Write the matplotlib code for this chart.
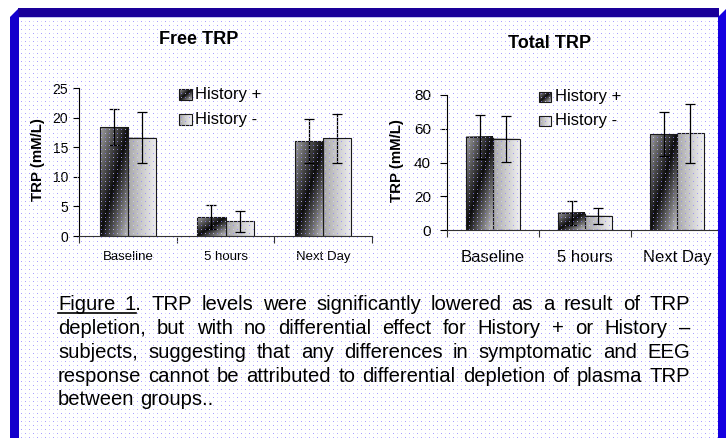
import numpy as np
import matplotlib
matplotlib.use('Agg')
import matplotlib.pyplot as plt
from matplotlib.patches import Rectangle, Polygon

plt.rcParams['font.family'] = ['Liberation Sans', 'DejaVu Sans']

# ---------------- data ----------------
categories = ['Baseline', '5 hours', 'Next Day']
series = ['History +', 'History -']

free_plus = [18.4, 3.2, 16.0]
free_plus_err = [3.1, 2.1, 3.7]
free_minus = [16.6, 2.5, 16.5]
free_minus_err = [4.3, 1.8, 4.1]

total_plus = [55.2, 10.2, 56.7]
total_plus_err = [13.2, 7.2, 13.0]
total_minus = [54.0, 8.4, 57.4]
total_minus_err = [13.6, 4.6, 17.4]

free_yticks = [0, 5, 10, 15, 20, 25]
total_yticks = [0, 20, 40, 60, 80]

titles = ['Free TRP', 'Total TRP']
ylabel = 'TRP (mM/L)'

caption_lines = [
    ['Figure', '1.', 'TRP', 'levels', 'were', 'significantly', 'lowered', 'as', 'a', 'result', 'of', 'TRP'],
    ['depletion,', 'but', 'with', 'no', 'differential', 'effect', 'for', 'History', '+', 'or', 'History', '\u2013'],
    ['subjects,', 'suggesting', 'that', 'any', 'differences', 'in', 'symptomatic', 'and', 'EEG'],
    ['response', 'cannot', 'be', 'attributed', 'to', 'differential', 'depletion', 'of', 'plasma', 'TRP'],
    ['between', 'groups..'],
]

# ---------------- figure ----------------
W, H = 726, 438
fig = plt.figure(figsize=(W / 100, H / 100), dpi=100)
fig.patch.set_facecolor('white')


def fbox(x0, y0, x1, y1):
    return [x0 / W, 1 - y1 / H, (x1 - x0) / W, (y1 - y0) / H]


def grad_plus(n=96):
    u = np.linspace(0, 1, n)
    U, V = np.meshgrid(u, u)
    d = U - V
    g = np.where(d < 0, 0.05 + 0.58 * (-d), 0.05 + 0.72 * d)
    g = np.clip(g, 0, 1)
    return np.dstack([g, g, g])


def grad_minus(n=96):
    u = np.linspace(0, 1, n)
    U, V = np.meshgrid(u, u)
    g = 0.66 + 0.28 * U
    return np.dstack([g, g, g])


GRADS = [grad_plus(), grad_minus()]


def draw_chart(rect, plus, plus_err, minus, minus_err, yticks, width,
               ytick_size, ytick_pad, ytick_len, xtick_size, xtick_pad):
    ax = fig.add_axes(rect, zorder=1)
    ax.set_facecolor('none')
    x = np.arange(len(categories))
    vals = [plus, minus]
    errs = [plus_err, minus_err]
    offs = [-width / 2, width / 2]
    for k in range(2):
        bars = ax.bar(x + offs[k], vals[k], width=width, facecolor='none',
                      edgecolor='#1a1a1a', linewidth=0.8, zorder=3)
        for b in bars:
            x0, w, h = b.get_x(), b.get_width(), b.get_height()
            ax.imshow(GRADS[k], extent=(x0, x0 + w, 0, h), origin='lower',
                      aspect='auto', interpolation='bilinear', zorder=2)
        ax.errorbar(x + offs[k], vals[k], yerr=errs[k], fmt='none',
                    ecolor='black', elinewidth=0.9, capsize=3.5,
                    capthick=0.9, zorder=4)
    ax.set_xlim(-0.5, len(categories) - 0.5)
    ax.set_ylim(yticks[0], yticks[-1])
    ax.set_yticks(yticks)
    ax.set_xticks(np.arange(len(categories) + 1) - 0.5)
    ax.set_xticklabels([])
    ax.set_xticks(x, minor=True)
    ax.set_xticklabels(categories, minor=True)
    ax.tick_params(axis='x', which='major', direction='out', length=5,
                   width=0.8, color='#333333')
    ax.tick_params(axis='x', which='minor', length=0, pad=xtick_pad,
                   labelsize=xtick_size)
    ax.tick_params(axis='y', direction='out', length=ytick_len, width=0.8,
                   pad=ytick_pad, labelsize=ytick_size)
    for s in ['top', 'right']:
        ax.spines[s].set_visible(False)
    ax.spines['left'].set_linewidth(0.8)
    ax.spines['bottom'].set_linewidth(0.8)
    ax.spines['bottom'].set_color('#333333')
    return ax


ax1 = draw_chart(fbox(79, 88, 372, 236), free_plus, free_plus_err,
                 free_minus, free_minus_err, free_yticks, 0.287,
                 10, 4, 4, 9.5, 11.0)
ax2 = draw_chart(fbox(447, 95, 723, 230), total_plus, total_plus_err,
                 total_minus, total_minus_err, total_yticks, 0.29,
                 11, 6.5, 5, 12, 14.5)

# y labels
fig.text(38 / W, 1 - 160 / H, ylabel, rotation=90, ha='center', va='center',
         fontsize=10.8, fontweight='bold', zorder=10)
fig.text(397 / W, 1 - 161 / H, ylabel, rotation=90, ha='center', va='center',
         fontsize=10.8, fontweight='bold', zorder=10)

# ---------------- background & overlay ----------------
bg = fig.add_axes([0, 0, 1, 1], zorder=0)
bg.axis('off')
bg.set_xlim(0, W)
bg.set_ylim(H, 0)

ov = fig.add_axes([0, 0, 1, 1], zorder=5)
ov.set_facecolor('none')
ov.axis('off')

yy, xx = np.mgrid[0:H, 0:W]
dots = np.zeros((H, W, 4))
inside = (xx >= 19) & (xx < 718) & (yy >= 18)
m = (yy % 4 == 1) & (xx % 4 == 1) & inside
chk = ((yy // 4 + xx // 4) % 2 == 0)
dots[m & chk] = [0.55, 0.5, 1.0, 0.75]
dots[m & ~chk] = [0.82, 0.8, 1.0, 0.75]
ov.imshow(dots, extent=(0, W, H, 0), origin='upper', interpolation='nearest',
          aspect='auto', zorder=1)

# legends
leg_specs = [((179, 192), (89, 100), (114, 125), 195),
             ((539, 551), (92, 102), (116, 126), 555)]
for (lx0, lx1), r1, r2, tx in leg_specs:
    for k, (ry0, ry1) in enumerate([r1, r2]):
        ov.imshow(GRADS[k], extent=(lx0, lx1, ry1, ry0), origin='lower',
                  aspect='auto', interpolation='bilinear', zorder=0.5)
        ov.add_patch(Rectangle((lx0, ry0), lx1 - lx0, ry1 - ry0, fill=False,
                               edgecolor='#1a1a1a', linewidth=0.8, zorder=0.6))
        ov.text(tx, (ry0 + ry1) / 2, series[k], fontsize=12, ha='left',
                va='center', zorder=4)

# titles
ov.text(199, 40, titles[0], fontsize=13, fontweight='bold', ha='center',
        va='center', zorder=4)
ov.text(550, 43, titles[1], fontsize=13, fontweight='bold', ha='center',
        va='center', zorder=4)

# frame
top_c, left_c, right_c = '#1a0099', '#1400cc', '#1500e0'
ov.add_patch(Polygon([(10, 438), (10, 17), (19, 8), (19, 438)], closed=True,
                     facecolor=left_c, edgecolor='none', zorder=3))
ov.add_patch(Polygon([(18, 8), (719, 8), (719, 17), (19, 17)], closed=True,
                     facecolor=top_c, edgecolor='none', zorder=3))
ov.add_patch(Polygon([(718, 17), (726, 9), (726, 438), (718, 438)], closed=True,
                     facecolor=right_c, edgecolor='none', zorder=3))
ov.add_patch(Rectangle((19, 17), 699, 1.2, facecolor='#c4c4f0',
                       edgecolor='none', zorder=3))

# caption, justified
ov.set_xlim(0, W)
ov.set_ylim(H, 0)
renderer = fig.canvas.get_renderer()
cap_x0, cap_x1 = 58, 690
cap_fs = 14.6
baselines = [310, 334, 358, 382, 405]
for li, words in enumerate(caption_lines):
    arts = [ov.text(0, baselines[li], w, fontsize=cap_fs, ha='left',
                    va='baseline', zorder=4) for w in words]
    widths = [a.get_window_extent(renderer=renderer).width for a in arts]
    if li < len(caption_lines) - 1:
        gap = (cap_x1 - cap_x0 - sum(widths)) / (len(words) - 1)
    else:
        sp = ov.text(0, 0, 'a a', fontsize=cap_fs)
        sp2 = ov.text(0, 0, 'aa', fontsize=cap_fs)
        gap = (sp.get_window_extent(renderer=renderer).width -
               sp2.get_window_extent(renderer=renderer).width)
        sp.remove()
        sp2.remove()
    xpos = cap_x0
    starts = []
    for a, w in zip(arts, widths):
        a.set_x(xpos)
        starts.append(xpos)
        xpos += w + gap
    if li == 0:
        t1 = ov.text(0, 0, '1', fontsize=cap_fs)
        w1 = t1.get_window_extent(renderer=renderer).width
        t1.remove()
        ov.plot([cap_x0, starts[1] + w1], [baselines[0] + 2.5] * 2,
                color='black', linewidth=1.2, zorder=4)

ov.set_xlim(0, W)
ov.set_ylim(H, 0)

fig.savefig('out.png', dpi=100)
